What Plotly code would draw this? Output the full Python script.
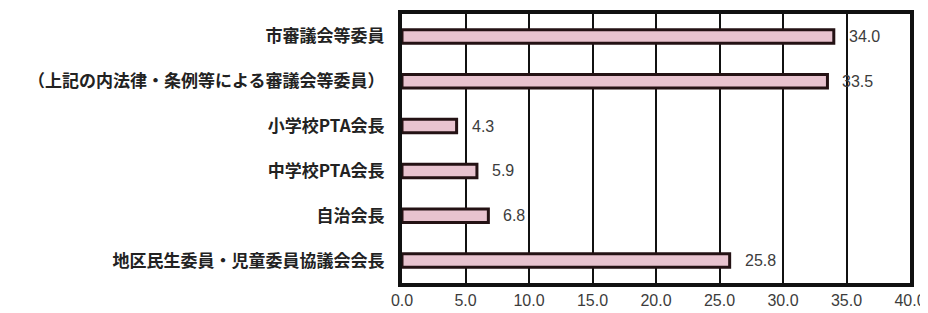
import plotly.graph_objects as go

categories = [
    "市審議会等委員",
    "（上記の内法律・条例等による審議会等委員）",
    "小学校PTA会長",
    "中学校PTA会長",
    "自治会長",
    "地区民生委員・児童委員協議会会長",
]
values = [34.0, 33.5, 4.3, 5.9, 6.8, 25.8]
tick_vals = [0, 5, 10, 15, 20, 25, 30, 35, 40]
tick_text = ["0.0", "5.0", "10.0", "15.0", "20.0", "25.0", "30.0", "35.0", "40.0"]

num_font = dict(size=16, color="#3c3c3c", family="Arial, Liberation Sans, sans-serif")

fig = go.Figure(
    go.Bar(
        y=categories,
        x=values,
        orientation="h",
        width=0.3,
        marker=dict(color="#e8c3cf", line=dict(color="#241214", width=3)),
    )
)

for c, v in zip(categories, values):
    fig.add_annotation(
        x=v, y=c, text=f"{v:.1f}", showarrow=False,
        xanchor="left", xshift=13, font=num_font,
    )

fig.update_layout(
    width=920,
    height=305,
    margin=dict(l=394, r=15, t=2, b=30),
    plot_bgcolor="white",
    paper_bgcolor="white",
    showlegend=False,
    font=dict(family="Noto Sans CJK JP", color="#222"),
)
fig.update_xaxes(
    range=[0, 40],
    tickvals=tick_vals,
    ticktext=tick_text,
    showgrid=True,
    gridcolor="#111",
    gridwidth=2,
    showline=True,
    linecolor="#111",
    linewidth=4,
    mirror=True,
    ticks="",
    zeroline=False,
    ticklabeloverflow="allow",
    tickfont=num_font,
)
fig.update_yaxes(
    categoryorder="array",
    categoryarray=categories[::-1],
    showline=True,
    linecolor="#111",
    linewidth=4,
    mirror=True,
    ticks="",
    ticklabelstandoff=10,
    tickfont=dict(size=17, color="#222", family="Noto Sans CJK JP", weight="bold"),
)

fig.write_html("out.html")
